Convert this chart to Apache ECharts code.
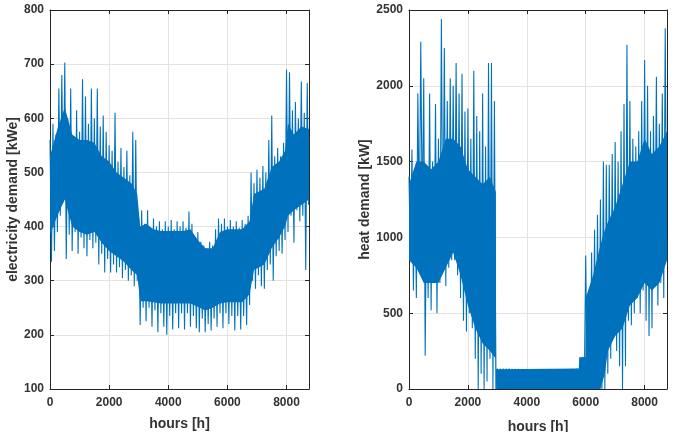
<!DOCTYPE html>
<html>
<head>
<meta charset="utf-8">
<script src="https://cdn.jsdelivr.net/npm/echarts@6/dist/echarts.min.js"></script>
<style>
  html, body { margin: 0; padding: 0; background: #fff; }
  #main { width: 681px; height: 432px; }
</style>
</head>
<body>
<div id="main"></div>
<script>
// hourly profiles: a peak every 100 h, a trough half way between
var step = 100;

// electricity demand [kWe], peaks at h = 0, 100, ... 8700
var elecHigh = [560, 590, 570, 655, 680, 703, 600, 655, 560, 615,
                575, 672, 640, 590, 655, 600, 655, 585, 605, 575,
                550, 540, 610, 520, 545, 510, 540, 495, 575, 560,
                415, 430, 405, 430, 395, 415, 400, 410, 395, 410,
                400, 412, 395, 410, 400, 410, 398, 428, 405, 380,
                390, 372, 365, 360, 372, 365, 395, 415, 405, 415,
                400, 412, 400, 410, 398, 412, 405, 420, 500, 480,
                505, 490, 512, 500, 560, 605, 530, 545, 530, 555,
                690, 685, 615, 630, 600, 668, 610, 665];
// troughs at h = 50, 150, ... 8750
var elecLow = [335, 355, 390, 420, 445, 340, 385, 355, 390, 350,
               380, 360, 345, 375, 360, 370, 330, 350, 315, 340,
               315, 330, 315, 325, 305, 320, 300, 310, 290, 300,
               218, 250, 225, 250, 215, 245, 205, 240, 215, 200,
               235, 210, 240, 212, 240, 210, 240, 215, 235, 212,
               205, 230, 205, 220, 208, 230, 215, 240, 212, 240,
               220, 235, 208, 235, 210, 235, 218, 255, 300, 285,
               310, 290, 285, 320, 330, 300, 345, 355, 350, 375,
               390, 420, 370, 430, 410, 420, 320, 440];
// solid core of the electricity band
var elecCoreHours = [0, 250, 500, 750, 1000, 1250, 1500, 1750, 2000, 2250, 2500, 2750, 2950,
                     3050, 3250, 3500, 3750, 4000, 4250, 4500, 4750, 5000, 5250, 5500, 5750,
                     6000, 6250, 6500, 6750, 6900, 7250, 7500, 7750, 7950, 8050, 8250, 8500, 8760];
var elecCoreLow  = [385, 420, 450, 400, 390, 385, 390, 370, 355, 345, 335, 320, 310,
                    262, 262, 260, 258, 258, 258, 258, 258, 252, 245, 250, 258,
                    260, 260, 260, 275, 320, 330, 360, 380, 400, 420, 430, 440, 450];
var elecCoreHigh = [530, 580, 620, 570, 560, 560, 555, 530, 520, 500, 490, 480, 460,
                    400, 405, 395, 392, 392, 392, 392, 395, 375, 360, 360, 390,
                    395, 395, 395, 410, 460, 470, 510, 520, 540, 590, 570, 585, 580];

// heat demand [kW], peaks at h = 0, 100, ... 8700
var heatHigh = [1400, 1580, 1450, 1950, 2290, 2050, 1420, 1950, 1500, 1880,
                1650, 2440, 2250, 1900, 2050, 2000, 2150, 1950, 2080, 1830,
                1850, 1650, 2100, 1800, 1700, 1950, 1600, 2150, 2150, 1900,
                135, 135, 135, 135, 135, 133, 133, 133, 132, 132,
                132, 130, 130, 130, 126, 126, 126, 126, 126, 126,
                128, 130, 130, 132, 132, 133, 134, 135, 210, 212,
                880, 650, 900, 1050, 1150, 1250, 1500, 1480, 1480, 1550,
                1630, 1500, 1700, 1880, 2270, 1900, 1650, 1600, 1700, 1900,
                2170, 2000, 1700, 1800, 2060, 1750, 1950, 2380];
// troughs at h = 50, 150, ... 8750
var heatLow = [850, 650, 600, 1050, 1100, 220, 600, 520, 700, 500,
               700, 850, 680, 800, 850, 850, 750, 600, 450, 380,
               500, 400, 200, 0, 100, 0, 50, 200, 0, 0,
               0, 0, 0, 0, 0, 0, 0, 0, 0, 0,
               0, 0, 0, 0, 0, 0, 0, 0, 0, 0,
               0, 0, 0, 0, 0, 0, 0, 0, 0, 0,
               0, 0, 0, 0, 0, 0, 0, 100, 200, 350,
               250, 150, 0, 150, 450, 420, 500, 600, 500, 650,
               450, 350, 400, 800, 550, 700, 600, 850];
// solid core of the heat band
var heatCoreHours = [0, 250, 500, 750, 1000, 1250, 1500, 1750, 2000, 2250, 2500, 2750, 2950,
                     2960, 5790, 5800, 5990, 6000, 6250, 6500, 6650, 6750, 7000, 7250, 7500,
                     7750, 8000, 8250, 8500, 8760];
var heatCoreLow  = [850, 800, 700, 700, 700, 800, 900, 750, 550, 400, 300, 250, 200,
                    0, 0, 0, 0, 0, 0, 0, 100, 250, 350, 400, 550,
                    600, 700, 650, 700, 850];
var heatCoreHigh = [1350, 1500, 1500, 1450, 1500, 1650, 1650, 1600, 1450, 1400, 1350, 1400, 1300,
                    130, 135, 210, 210, 600, 750, 950, 1050, 1100, 1200, 1350, 1500,
                    1500, 1650, 1550, 1600, 1700];

var blue = '#0072BD';
var axisColor = '#262626';
var gridColor = '#e3e3e3';
var font = 'Liberation Sans, Arial, sans-serif';

function zigzag(high, low) {
    var pts = [];
    for (var i = 0; i < high.length; i++) {
        pts.push([i * step, high[i]]);
        pts.push([i * step + step / 2, low[i]]);
    }
    return pts;
}

function plain(v) { return String(v); }

function xAxis(grid, pos, gap) {
    var main = pos === 'bottom';
    return {
        type: 'value', gridIndex: grid, position: pos,
        min: 0, max: 8760, interval: 2000,
        name: main ? 'hours [h]' : '', nameLocation: 'middle', nameGap: gap,
        nameTextStyle: { color: '#333', fontFamily: font, fontWeight: 'bold', fontSize: 14 },
        axisLine: { show: true, onZero: false, lineStyle: { color: axisColor } },
        axisTick: { show: true, inside: true, length: 4, lineStyle: { color: axisColor } },
        axisLabel: { show: main, showMaxLabel: false, margin: 8, color: '#333', formatter: plain,
                     fontFamily: font, fontWeight: 'bold', fontSize: 12 },
        splitLine: { show: main, lineStyle: { color: gridColor } }
    };
}
function yAxis(grid, pos, name, min, max, interval, gap) {
    var main = pos === 'left';
    return {
        type: 'value', gridIndex: grid, position: pos,
        min: min, max: max, interval: interval,
        name: main ? name : '', nameLocation: 'middle', nameGap: gap,
        nameTextStyle: { color: '#333', fontFamily: font, fontWeight: 'bold', fontSize: 14 },
        axisLine: { show: true, onZero: false, lineStyle: { color: axisColor } },
        axisTick: { show: true, inside: true, length: 4, lineStyle: { color: axisColor } },
        axisLabel: { show: main, margin: 6, color: '#333', formatter: plain,
                     fontFamily: font, fontWeight: 'bold', fontSize: 12 },
        splitLine: { show: main, lineStyle: { color: gridColor } }
    };
}

function spikes(idx, data) {
    return { type: 'line', xAxisIndex: idx, yAxisIndex: idx, data: data,
             showSymbol: false, silent: true, z: 3,
             lineStyle: { color: blue, width: 1.1 } };
}
// dense core drawn as one polygon through the axis scales
function core(idx, hours, lo, hi) {
    return {
        type: 'custom', coordinateSystem: 'cartesian2d',
        xAxisIndex: idx, yAxisIndex: idx, silent: true, z: 2,
        data: [[hours[0], lo[0]]],
        renderItem: function(params, api) {
            var pts = [];
            for (var i = 0; i < hours.length; i++) pts.push(api.coord([hours[i], hi[i]]));
            for (var j = hours.length - 1; j >= 0; j--) pts.push(api.coord([hours[j], lo[j]]));
            return { type: 'polygon', shape: { points: pts }, style: { fill: blue } };
        }
    };
}

var chart = echarts.init(document.getElementById('main'));
chart.setOption({
    animation: false,
    grid: [
        { left: 50, top: 10, width: 259, height: 379, outerBoundsMode: 'none' },
        { left: 409, top: 10, width: 258, height: 379, outerBoundsMode: 'none' }
    ],
    xAxis: [
        xAxis(0, 'bottom', 28), xAxis(0, 'top', 0),
        xAxis(1, 'bottom', 31), xAxis(1, 'top', 0)
    ],
    yAxis: [
        yAxis(0, 'left', 'electricity demand [kWe]', 100, 800, 100, 28), yAxis(0, 'right', '', 100, 800, 100, 0),
        yAxis(1, 'left', 'heat demand [kW]', 0, 2500, 500, 36), yAxis(1, 'right', '', 0, 2500, 500, 0)
    ],
    series: [
        core(0, elecCoreHours, elecCoreLow, elecCoreHigh),
        spikes(0, zigzag(elecHigh, elecLow)),
        core(2, heatCoreHours, heatCoreLow, heatCoreHigh),
        spikes(2, zigzag(heatHigh, heatLow))
    ]
});
</script>
</body>
</html>
